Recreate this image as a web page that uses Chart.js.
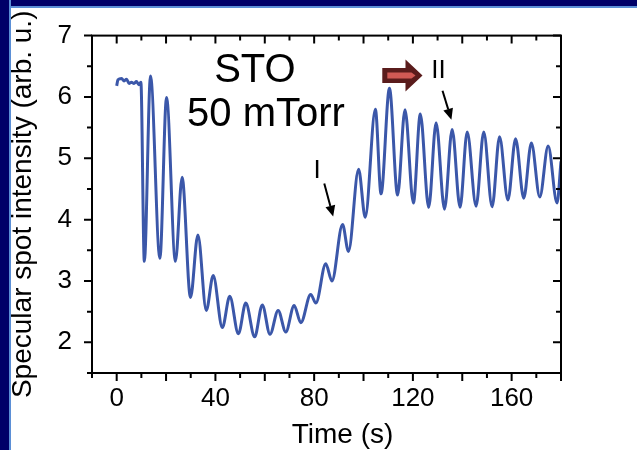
<!DOCTYPE html>
<html>
<head>
<meta charset="utf-8">
<script src="https://cdn.jsdelivr.net/npm/chart.js@4"></script>
<style>
  html, body { margin: 0; padding: 0; background: #fff; }
  .bar { position: fixed; background: #000068; }
  .bar.top { left: 0; top: 0; width: 100%; height: 6px; border-bottom: 2px solid #5b8fd6; }
  .bar.left { left: 0; top: 0; width: 9px; height: 100%; border-right: 2px solid #5b8fd6; }
  canvas { position: absolute; left: 0; top: 0; }
</style>
</head>
<body>
<div class="bar top"></div>
<div class="bar left"></div>
<canvas id="rheed" width="637" height="450"></canvas>
<script>
  // RHEED specular spot intensity vs growth time
  const times = [
    0, 0.5, 2, 3, 4, 5, 6, 7, 8, 9, 9.8,
    11.2, 13.7, 17.5, 20.2, 23.8, 26.5, 29.9, 32.9, 36.3, 39.1,
    42.8, 45.8, 49.3, 52.3, 55.9, 59.0, 62.1, 65.4, 68.5, 71.9,
    74.6, 78.6, 80.7, 84.7, 87.2, 91.5, 93.9, 98.0, 100.7, 104.8,
    107.1, 110.5, 113.8, 116.8, 120.2, 123.0, 126.4, 129.4, 132.8, 135.9,
    139.1, 142.0, 145.6, 148.7, 152.1, 155.1, 158.5, 161.6, 164.9, 168.0,
    171.4, 174.8, 178.4, 180
  ];
  const intensity = [
    6.18, 6.28, 6.30, 6.26, 6.29, 6.22, 6.24, 6.22, 6.25, 6.20, 6.24,
    3.32, 6.34, 3.37, 5.99, 3.32, 4.69, 2.73, 3.75, 2.52, 3.09,
    2.24, 2.75, 2.14, 2.64, 2.09, 2.61, 2.13, 2.52, 2.17, 2.60,
    2.32, 2.78, 2.64, 3.28, 3.00, 3.92, 3.48, 4.82, 4.04, 5.80,
    4.42, 6.14, 4.40, 5.79, 4.27, 5.72, 4.20, 5.58, 4.17, 5.47,
    4.20, 5.43, 4.22, 5.43, 4.21, 5.35, 4.32, 5.32, 4.35, 5.25,
    4.37, 5.20, 4.27, 4.95
  ];
  const xLabels = [0, 40, 80, 120, 160];
  const yLabels = [2, 3, 4, 5, 6, 7];

  const points = times.map((t, i) => ({ x: t, y: intensity[i] }));
  const FONT = '"Liberation Sans", Arial, sans-serif';

  function arrow(ctx, x0, y0, x1, y1) {
    const ang = Math.atan2(y1 - y0, x1 - x0);
    const hl = 11, hw = 5;
    const bx = x1 - hl * Math.cos(ang), by = y1 - hl * Math.sin(ang);
    ctx.beginPath();
    ctx.moveTo(x0, y0);
    ctx.lineTo(bx, by);
    ctx.stroke();
    ctx.beginPath();
    ctx.moveTo(x1, y1);
    ctx.lineTo(bx + hw * Math.sin(ang), by - hw * Math.cos(ang));
    ctx.lineTo(bx - hw * Math.sin(ang), by + hw * Math.cos(ang));
    ctx.closePath();
    ctx.fill();
  }

  // frame, ticks on all four sides, x title and the annotations
  const decorations = {
    id: 'decorations',
    afterDraw(chart) {
      const { ctx, chartArea: a, scales: { x, y } } = chart;
      ctx.save();
      ctx.strokeStyle = '#000';
      ctx.fillStyle = '#000';
      ctx.lineWidth = 2;
      ctx.strokeRect(a.left, a.top, a.right - a.left, a.bottom - a.top);
      ctx.beginPath();
      x.ticks.forEach(t => {
        const px = x.getPixelForValue(t.value);
        const len = t.value % 20 === 0 ? 8 : 5;
        ctx.moveTo(px, a.bottom); ctx.lineTo(px, a.bottom + len);
        ctx.moveTo(px, a.top); ctx.lineTo(px, a.top + len);
      });
      y.ticks.forEach(t => {
        const py = y.getPixelForValue(t.value);
        const len = Number.isInteger(t.value) ? 8 : 5;
        ctx.moveTo(a.left, py); ctx.lineTo(a.left - len, py);
        ctx.moveTo(a.right, py); ctx.lineTo(a.right - len, py);
      });
      ctx.stroke();

      ctx.textAlign = 'center';
      ctx.textBaseline = 'alphabetic';
      ctx.font = '28px ' + FONT;
      ctx.fillText('Time (s)', x.getPixelForValue(91.5), 443);

      ctx.font = '40px ' + FONT;
      ctx.fillText('STO', x.getPixelForValue(56), y.getPixelForValue(6.24));
      ctx.fillText('50 mTorr', x.getPixelForValue(60.5), y.getPixelForValue(5.53));

      ctx.font = '26px ' + FONT;
      ctx.fillText('I', x.getPixelForValue(81.2), y.getPixelForValue(4.68));
      ctx.fillText('II', x.getPixelForValue(130.4), y.getPixelForValue(6.31));

      arrow(ctx, x.getPixelForValue(84.1), y.getPixelForValue(4.59),
                 x.getPixelForValue(87.7), y.getPixelForValue(4.05));
      arrow(ctx, x.getPixelForValue(132.0), y.getPixelForValue(6.10),
                 x.getPixelForValue(135.6), y.getPixelForValue(5.63));

      // block arrow pointing to later times
      const x0 = x.getPixelForValue(107.6), xh = x.getPixelForValue(117.0), xt = x.getPixelForValue(123.9);
      const yc = y.getPixelForValue(6.35);
      ctx.fillStyle = '#5a1c1c';
      ctx.beginPath();
      ctx.moveTo(x0, yc - 7.5);
      ctx.lineTo(xh, yc - 7.5);
      ctx.lineTo(xh, yc - 16);
      ctx.lineTo(xt, yc);
      ctx.lineTo(xh, yc + 16);
      ctx.lineTo(xh, yc + 7.5);
      ctx.lineTo(x0, yc + 7.5);
      ctx.closePath();
      ctx.fill();
      ctx.fillStyle = '#d05a55';
      ctx.beginPath();
      ctx.moveTo(x0 + 5, yc - 3);
      ctx.lineTo(xt - 11, yc - 3);
      ctx.lineTo(xt - 7, yc);
      ctx.lineTo(xt - 11, yc + 3);
      ctx.lineTo(x0 + 5, yc + 3);
      ctx.closePath();
      ctx.fill();
      ctx.restore();
    }
  };

  const config = {
    type: 'line',
    data: {
      datasets: [{
        data: points,
        borderColor: '#3b57a9',
        borderWidth: 3,
        pointRadius: 0,
        fill: false,
        tension: 0.4,
        cubicInterpolationMode: 'monotone',
      }]
    },
    options: {
      responsive: false,
      animation: false,
      layout: { padding: { top: 25, right: 76, left: 0, bottom: 0 } },
      scales: {
        x: {
          type: 'linear',
          min: -10,
          max: 180,
          grid: { display: false, drawTicks: false },
          border: { display: false },
          afterFit: scale => { scale.height = 77; },
          ticks: {
            stepSize: 10,
            autoSkip: false,
            maxRotation: 0,
            padding: 10,
            color: '#000',
            font: { family: FONT, size: 26 },
            callback: v => xLabels.includes(v) ? String(v) : '',
          }
        },
        y: {
          min: 1.5,
          max: 7,
          grid: { display: false, drawTicks: false },
          border: { display: false },
          afterFit: scale => { scale.width = 92; },
          title: {
            display: true,
            text: 'Specular spot intensity (arb. u.)',
            color: '#000',
            font: { family: FONT, size: 28 },
            padding: { top: 6, bottom: 0 },
          },
          ticks: {
            stepSize: 0.5,
            autoSkip: false,
            padding: 20,
            color: '#000',
            font: { family: FONT, size: 26 },
            callback: v => yLabels.includes(v) ? String(v) : '',
          }
        }
      },
      plugins: {
        legend: { display: false },
        tooltip: { enabled: false },
      }
    },
    plugins: [decorations],
  };

  new Chart(document.getElementById('rheed'), config);
</script>
</body>
</html>
